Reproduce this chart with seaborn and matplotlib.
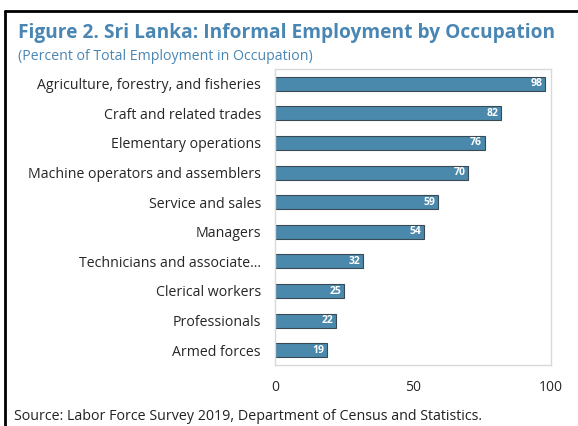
import matplotlib
matplotlib.use("Agg")
import matplotlib.pyplot as plt
import seaborn as sns
import pandas as pd
from matplotlib.lines import Line2D

categories = ["Agriculture, forestry, and fisheries", "Craft and related trades",
              "Elementary operations", "Machine operators and assemblers",
              "Service and sales", "Managers", "Technicians and associate...",
              "Clerical workers", "Professionals", "Armed forces"]
values = [98, 82, 76, 70, 59, 54, 32, 25, 22, 19]
xticks = [0, 50, 100]

df = pd.DataFrame({"cat": categories, "val": values})

sns.set_theme(style="white")
plt.rcParams['font.family'] = ['Open Sans', 'DejaVu Sans']

fig = plt.figure(figsize=(5.78, 4.26), dpi=100)
ax = fig.add_axes([275 / 578, 1 - 365 / 426, 276 / 578, 296 / 426])

sns.barplot(data=df, x="val", y="cat", orient="h", color="#4a89ac",
            width=0.47, edgecolor="#3a4a55", linewidth=0.8, saturation=1, ax=ax)

for p, v in zip(ax.patches, values):
    ax.text(p.get_x() + p.get_width() - 1.0, p.get_y() + p.get_height() / 2, str(v),
            ha="right", va="center", color="white", fontsize=7.5, fontweight="bold")

ax.set_xlim(0, 100)
ax.set_xticks(xticks)
ax.set_xticklabels([str(t) for t in xticks], fontsize=10)
ax.set_ylim(9.5, -0.5)
ax.set_xlabel("")
ax.set_ylabel("")
ax.tick_params(axis="y", labelsize=10.2, length=0, pad=10)
ax.tick_params(axis="x", length=0, pad=11)
for s in ax.spines.values():
    s.set_color("#d9d9d9")
    s.set_linewidth(1)
ax.grid(False)

fig.text(18 / 578, 1 - 33 / 426, "Figure 2. Sri Lanka: Informal Employment by Occupation",
         color="#4a86b3", fontsize=13.8, fontweight="bold", va="center", ha="left")
fig.text(18 / 578, 1 - 56 / 426, "(Percent of Total Employment in Occupation)",
         color="#4a86b3", fontsize=10.2, va="center", ha="left")
fig.text(14 / 578, 1 - 416 / 426, "Source: Labor Force Survey 2019, Department of Census and Statistics.",
         color="#222222", fontsize=10.3, va="center", ha="left")

fig.add_artist(Line2D([5 / 578, 5 / 578], [0, 1 - 11 / 426], transform=fig.transFigure,
                      color="black", linewidth=2))
fig.add_artist(Line2D([5 / 578, 1], [1 - 11 / 426, 1 - 11 / 426], transform=fig.transFigure,
                      color="black", linewidth=2))

fig.savefig("out.png", dpi=100)
